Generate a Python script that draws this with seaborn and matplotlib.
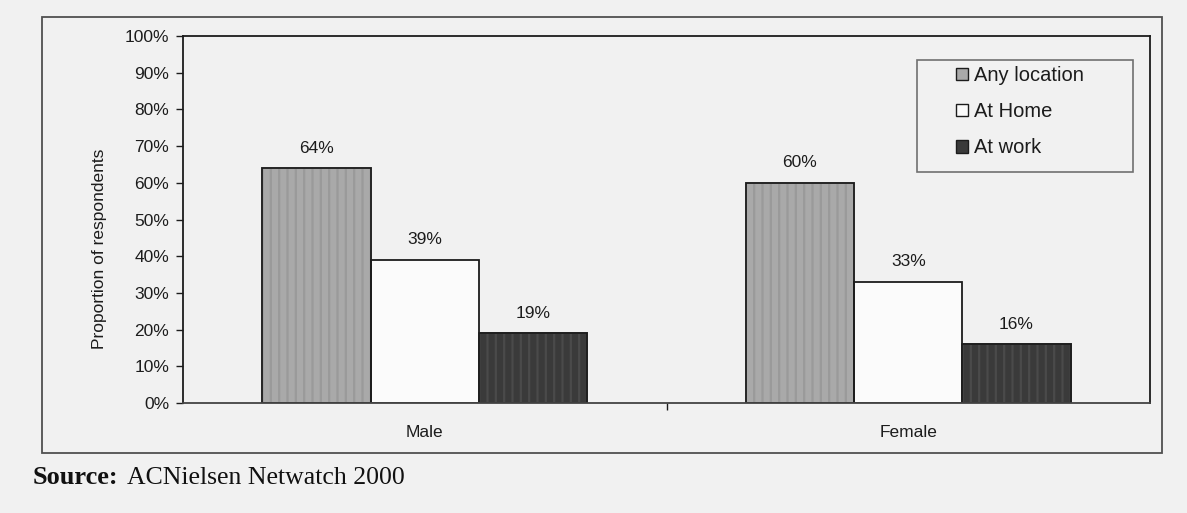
import matplotlib
matplotlib.use("Agg")
import matplotlib.pyplot as plt
import seaborn as sns
import pandas as pd
from matplotlib.patches import Rectangle, Patch
from matplotlib.ticker import PercentFormatter

# Internet access by gender and location (% of respondents)
genders = ["Male", "Female"]
locations = ["Any location", "At Home", "At work"]
any_location = [64, 60]
at_home = [39, 33]
at_work = [19, 16]
y_ticks = [0, 10, 20, 30, 40, 50, 60, 70, 80, 90, 100]
y_title = "Proportion of respondents"
source_label = "Source:"
source_name = "ACNielsen Netwatch 2000"

df = pd.DataFrame({
    "gender": genders * 3,
    "location": [loc for loc in locations for _ in genders],
    "share": any_location + at_home + at_work,
})

sns.set_theme(style="white")
plt.rcParams["font.family"] = ["Liberation Sans", "DejaVu Sans"]
plt.rcParams["hatch.linewidth"] = 1.6

paper = "#f1f1f1"
ink = "#1c1c1c"
fills = {"Any location": "#a9a9a9", "At Home": "#fbfbfb", "At work": "#3a3a3a"}
stripe = {"Any location": "#9a9a9a", "At Home": None, "At work": "#4a4a4a"}

W, H = 1187, 513
AX_L, AX_R, AX_T, AX_B = 183, 1150, 36, 403
fig = plt.figure(figsize=(W / 100, H / 100), dpi=100, facecolor=paper)
ax = fig.add_axes([AX_L / W, 1 - AX_B / H, (AX_R - AX_L) / W, (AX_B - AX_T) / H])
ax.set_facecolor(paper)

sns.barplot(data=df, x="gender", y="share", hue="location",
            order=genders, hue_order=locations, palette=fills,
            width=0.672, gap=0, saturation=1, errorbar=None,
            edgecolor=ink, linewidth=1.3, legend=False, ax=ax)

# soft vertical striping on the shaded bars, then crisp outlines on top
for cont, loc in zip(ax.containers, locations):
    for p in cont:
        if stripe[loc] is not None:
            p.set_hatch("||")
            p.set_edgecolor(stripe[loc])
            ax.add_patch(Rectangle(p.get_xy(), p.get_width(), p.get_height(),
                                   fill=False, edgecolor=ink, linewidth=1.3,
                                   zorder=p.get_zorder() + 0.1))
    ax.bar_label(cont, labels=[f"{v:.0f}%" for v in cont.datavalues],
                 padding=9, fontsize=12.5, color=ink)

ax.set_ylim(0, 100)
ax.set_yticks(y_ticks)
ax.yaxis.set_major_formatter(PercentFormatter(decimals=0))
ax.tick_params(axis="y", left=True, length=5, width=1, color=ink,
               labelsize=12.5, labelcolor=ink, pad=5)
ax.tick_params(axis="x", which="major", length=0, labelsize=12.5,
               labelcolor=ink, pad=16)
ax.set_xticks([0.5], minor=True)
ax.tick_params(axis="x", which="minor", bottom=True, length=5, width=1,
               color=ink, direction="out")
ax.set_xlabel("")
ax.set_ylabel(y_title, fontsize=12.5, color=ink)
ax.yaxis.set_label_coords((107 - AX_L) / (AX_R - AX_L), 0.42)

for s in ax.spines.values():
    s.set_visible(True)
    s.set_color(ink)
    s.set_linewidth(1.3)
ax.spines["bottom"].set_color("#444444")

# legend with its own frame
aw, ah = AX_R - AX_L, AX_B - AX_T
handles = [Patch(facecolor=fills[l], edgecolor=ink, linewidth=1.0) for l in locations]
leg = ax.legend(handles, locations, loc="upper left",
                bbox_to_anchor=((956 - AX_L) / aw, (AX_B - 66) / ah),
                frameon=False, fontsize=14.5, handlelength=0.6,
                handleheight=0.6, handletextpad=0.3, labelspacing=0.85,
                borderpad=0, borderaxespad=0)
for t in leg.get_texts():
    t.set_color(ink)
ax.add_patch(Rectangle(((917 - AX_L) / aw, (AX_B - 172) / ah),
                       (1133 - 917) / aw, (172 - 60) / ah,
                       transform=ax.transAxes, fill=False,
                       edgecolor="#707070", linewidth=1.2, zorder=5))

# outer chart border
fig.add_artist(Rectangle((42 / W, 1 - 453 / H), (1162 - 42) / W,
                         (453 - 17) / H, transform=fig.transFigure,
                         fill=False, edgecolor="#505050", linewidth=1.3))

# source line
serif = ["Liberation Serif", "DejaVu Serif"]
t1 = fig.text(33 / W, 1 - 478 / H, source_label, family=serif,
              fontweight="bold", fontsize=19, va="center", color="#111111")
fig.canvas.draw()
bb = t1.get_window_extent()
fig.text((bb.x1 + 8) / W, 1 - 478 / H, source_name, family=serif,
         fontsize=18.5, va="center", color="#111111")

fig.savefig("out.png", dpi=100, facecolor=paper)
